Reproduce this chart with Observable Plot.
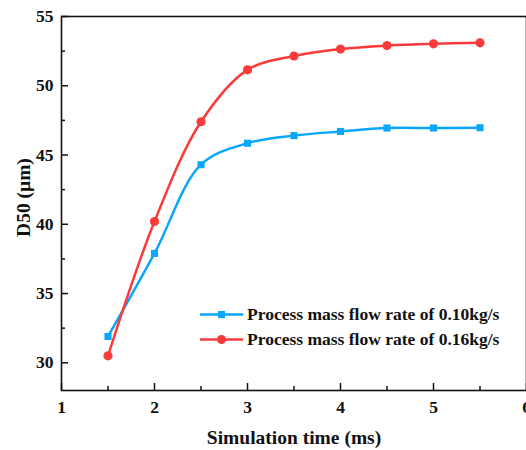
<!DOCTYPE html>
<html>
<head>
<meta charset="utf-8">
<script src="https://cdn.jsdelivr.net/npm/d3@7"></script>
<script src="https://cdn.jsdelivr.net/npm/@observablehq/plot@0.6"></script>
<style>
  html, body { margin: 0; padding: 0; background: white; }
  #wrap { position: relative; width: 526px; height: 450px; }
  #legend { position: absolute; left: 200px; top: 302px; font-family: "Liberation Serif", serif; font-weight: bold; font-size: 17.5px; color: #111; }
  .row { display: flex; align-items: center; height: 25px; }
  .row svg { margin-right: 4px; }
</style>
</head>
<body>
<div id="wrap"></div>
<script>
const time = [1.5, 2, 2.5, 3, 3.5, 4, 4.5, 5, 5.5];
const d50_010 = [31.9, 37.9, 44.3, 45.85, 46.4, 46.7, 46.95, 46.95, 46.97];
const d50_016 = [30.5, 40.2, 47.4, 51.15, 52.15, 52.65, 52.9, 53.03, 53.1];
const seriesNames = ["Process mass flow rate of 0.10kg/s", "Process mass flow rate of 0.16kg/s"];
const colors = ["#0aa6fc", "#fa3b3b"];
const xTicks = [1, 2, 3, 4, 5, 6];
const xMinor = [1.5, 2.5, 3.5, 4.5, 5.5];
const yTicks = [30, 35, 40, 45, 50, 55];
const yMinor = [32.5, 37.5, 42.5, 47.5, 52.5];

const s1 = time.map((t, i) => ({t, v: d50_010[i]}));
const s2 = time.map((t, i) => ({t, v: d50_016[i]}));

const chart = Plot.plot({
  width: 526, height: 450,
  marginLeft: 61, marginRight: 0, marginTop: 16, marginBottom: 60,
  x: {domain: [1, 6]},
  y: {domain: [28, 55]},
  style: {fontFamily: "'Liberation Serif', serif", fontWeight: "bold", fontSize: "17px", color: "#111", background: "white"},
  marks: [
    Plot.axisX(xTicks, {tickSize: -7, tickPadding: 17, label: null, strokeWidth: 1.5, fontSize: 17.5}),
    Plot.axisX(xMinor, {tickSize: -4, tickFormat: () => "", label: null, strokeWidth: 1.5}),
    Plot.axisY(yTicks, {tickSize: -7, tickPadding: 15, label: null, strokeWidth: 1.5, fontSize: 17.5}),
    Plot.axisY(yMinor, {tickSize: -4, tickFormat: () => "", label: null, strokeWidth: 1.5}),
    Plot.frame({stroke: "#111", strokeWidth: 1.6}),
    Plot.line(s1, {x: "t", y: "v", stroke: colors[0], strokeWidth: 2.5, curve: "catmull-rom"}),
    Plot.dot(s1, {x: "t", y: "v", fill: colors[0], symbol: "square", r: 4}),
    Plot.line(s2, {x: "t", y: "v", stroke: colors[1], strokeWidth: 2.5, curve: "catmull-rom"}),
    Plot.dot(s2, {x: "t", y: "v", fill: colors[1], symbol: "circle", r: 4.6}),
    Plot.text(["Simulation time (ms)"], {frameAnchor: "bottom", dy: 47, fontSize: 19.5, textAnchor: "middle", lineAnchor: "middle", text: d => d}),
    Plot.text(["D50 (μm)"], {frameAnchor: "left", dx: -38, dy: -6, rotate: -90, fontSize: 19.5, textAnchor: "middle", lineAnchor: "middle", text: d => d})
  ]
});

const wrap = document.getElementById("wrap");
wrap.appendChild(chart);

const legend = document.createElement("div");
legend.id = "legend";
seriesNames.forEach((name, i) => {
  const row = document.createElement("div");
  row.className = "row";
  const marker = i === 0
    ? `<rect x="18" y="5" width="7" height="7" fill="${colors[i]}"/>`
    : `<circle cx="21.5" cy="8.5" r="4.5" fill="${colors[i]}"/>`;
  row.innerHTML = `<svg width="43" height="17"><line x1="0" x2="43" y1="8.5" y2="8.5" stroke="${colors[i]}" stroke-width="2.5"/>${marker}</svg><span>${name}</span>`;
  legend.appendChild(row);
});
wrap.appendChild(legend);
</script>
</body>
</html>
